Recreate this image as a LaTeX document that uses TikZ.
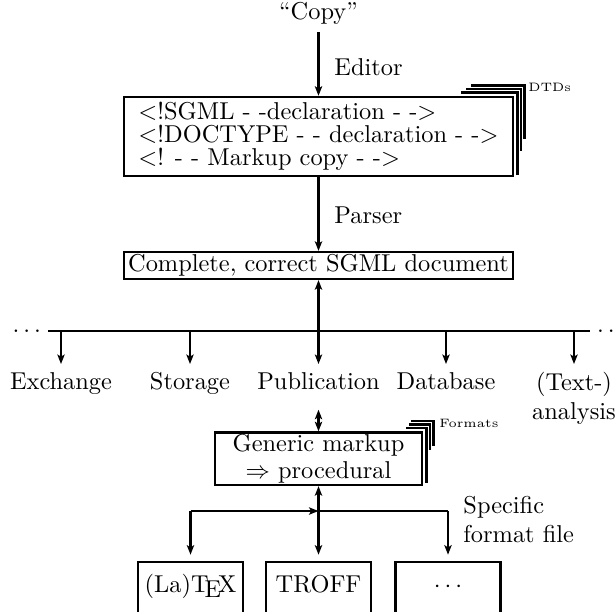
\documentclass[tikz,border=0pt]{standalone}
\usepackage{tikz}
\usetikzlibrary{arrows.meta,positioning}

\begin{document}
\begin{tikzpicture}[x=0.41pt, y=-0.41pt, >={Stealth[length=3.9pt,width=3pt,inset=0.9pt]}, line width=0.85pt,
    docbox/.style={draw, line width=1pt, inner sep=0pt},
    outbox/.style={docbox, minimum width=43pt, text height=12.3pt, text depth=12pt, anchor=base},
    lbl/.style={inner sep=1pt},
    outlet/.style={anchor=north, inner sep=3pt, text height=7pt, text depth=2pt},
    note/.style={font=\tiny, inner sep=0pt, anchor=west},
    stack/.style={line width=1pt}]
    \path[use as bounding box, clip] (0,0) rectangle (615,611);
    % copy, editor, parser
    \node[inner sep=3pt] (copy) at (318.5,13) {“Copy”};
    \node[docbox, minimum width=159.5pt, minimum height=32.4pt, align=left, font=\fontsize{10}{9.5}\selectfont] (sgml) at (318.5,136.5)
      {$<$!SGML - -declaration - -$>$\\$<$!DOCTYPE - - declaration - -$>$\\$<$! - - Markup copy - -$>$};
    \node[docbox, minimum width=159.5pt, minimum height=11pt, inner sep=0.5pt] (doc) at (318.5,265.5) {Complete, correct SGML document};
    \node[lbl, anchor=west] (editor) at (331,67) {Editor};
    \node[lbl, anchor=west] (parser) at (331,215) {Parser};
    \draw[->] (copy) -- (sgml);
    \draw[->] (sgml) -- (doc);
    \foreach \i/\l/\b in {1/53/79, 2/48/55, 3/43/43}
      \draw[stack] ([shift={(-\l,-3.4*\i)}]sgml.north east) -| ([shift={(3.4*\i,\b)}]sgml.north east);
    \node[note] (dtds) at ([shift={(13,-8)}]sgml.north east) {DTDs};

    % applications
    \coordinate (busL) at (48,331);
    \coordinate (busR) at (590,331);
    \draw (busL) -- (busR);
    \node[anchor=base east, inner sep=0pt] (dotsL) at (42,332) {$\ldots$};
    \node[anchor=base west, inner sep=0pt] (dotsR) at (596,332) {$\ldots$};
    \foreach \name/\x in {exch/61, stor/190, publ/318.5, dbase/446, anal/574}
      \coordinate (b-\name) at (\x,331);
    \node[outlet] (exch) at (61,364) {Exchange};
    \node[outlet] (stor) at (190,364) {Storage};
    \node[outlet] (publ) at (318.5,364) {Publication};
    \node[outlet] (dbase) at (446,364) {Database};
    \node[anchor=north, inner sep=3pt, align=center] (anal) at (574,364) {(Text-)\\analysis};
    \foreach \name in {exch, stor, dbase, anal}
      \draw[->] (b-\name) -- (\name);
    \draw[<->] (doc) -- (publ);

    % formatting
    \node[docbox, minimum width=84.9pt, minimum height=21.5pt, align=center, font=\fontsize{10}{11}\selectfont] (gen) at (318.5,458.7)
      {Generic markup\\$\Rightarrow$ procedural};
    \draw[<->] ([yshift=-2.9pt]publ.south) -- (gen);
    \foreach \i/\l/\b in {1/17/52, 2/14/19, 3/12/15}
      \draw[stack] ([shift={(-\l,-3.4*\i)}]gen.north east) -| ([shift={(3.4*\i,\b)}]gen.north east);
    \node[note] (formats) at ([shift={(15,-8)}]gen.north east) {Formats};
    \node[lbl, anchor=north west, align=left] (spec) at (460,493) {Specific\\format file};

    \coordinate (fl) at (190.5,511);
    \coordinate (fm) at (318.5,511);
    \coordinate (fr) at (448,511);
    \node[outbox] (latex) at (190.5,592) {(La)\TeX};
    \node[outbox] (troff) at (318.5,592) {TROFF};
    \node[outbox] (more) at (448,592) {$\cdots$};
    \draw[->] (fl) -- (fm);
    \draw (fm) -- (fr);
    \draw[->, shorten >=2.5pt] (fl) -- (latex);
    \draw[->, shorten >=2.5pt] (fr) -- (more);
    \draw[<->, shorten >=2.5pt] (gen) -- (troff);
  \end{tikzpicture}
\end{document}
